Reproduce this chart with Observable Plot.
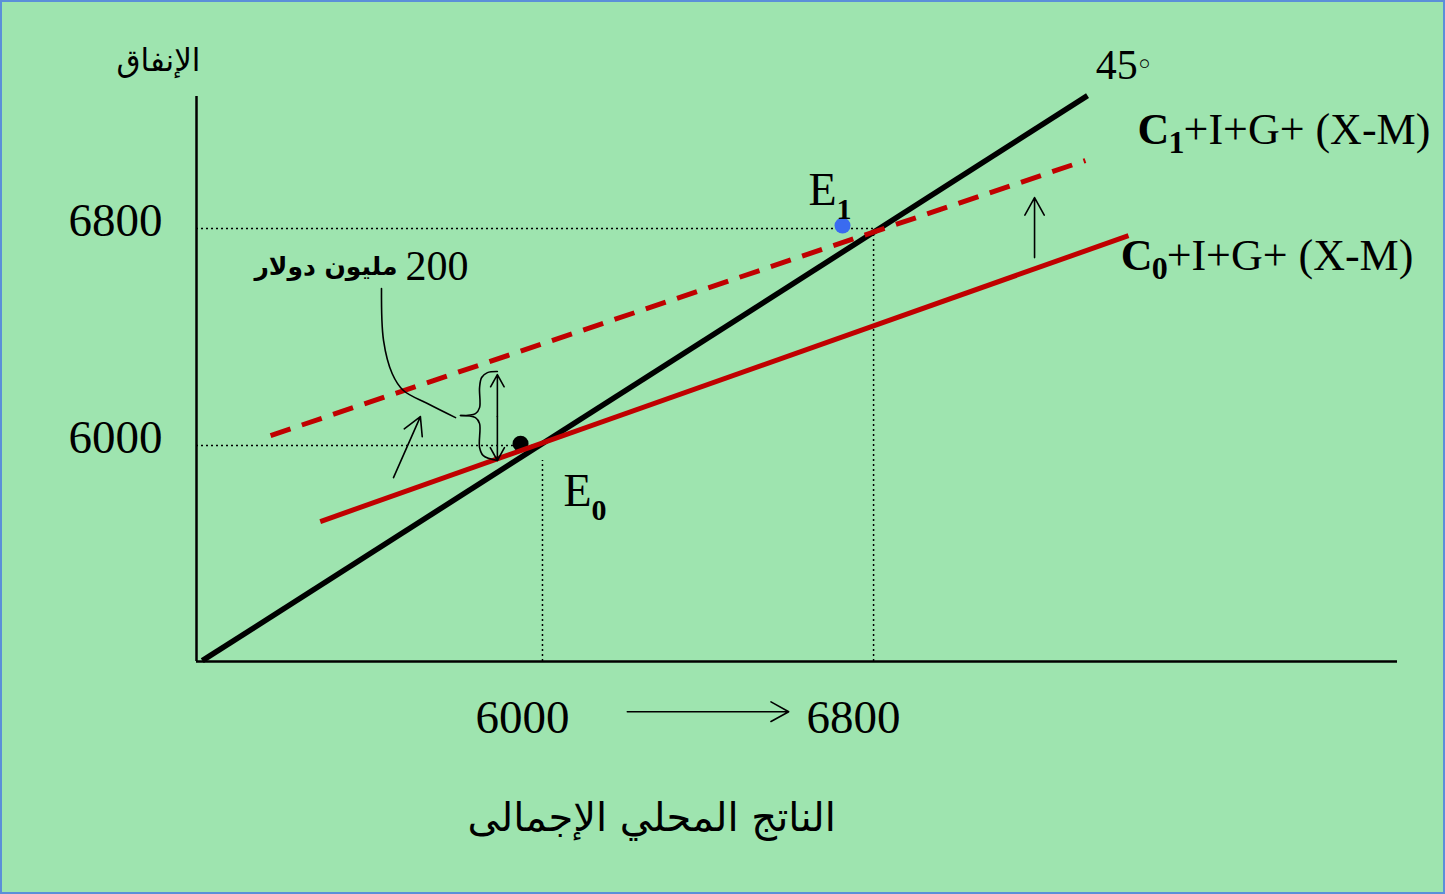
<!DOCTYPE html>
<html><head><meta charset="utf-8">
<script src="https://cdn.jsdelivr.net/npm/d3@7"></script>
<script src="https://cdn.jsdelivr.net/npm/@observablehq/plot@0.6"></script>
<style>
html,body{margin:0;padding:0;background:#9EE4AF;}
#chart svg{display:block;outline:2px solid #5B8FD9;outline-offset:-2px;}
</style></head><body><div id="chart"></div>
<script>
// ---- values (GDP on x, expenditure on y) ----
const axisTicks = [6000, 6800];
const xDomain = [5164, 8066];
const yDomain = [5204, 7287];
const line45X = [5178, 7317], line45Y = [5207, 7290];
const c0X = [5463, 7416], c0Y = [5720, 6774];
const c1X = [5343, 7312], c1Y = [6037, 7051];
const e0Point = [5947, 6007];
const e1Point = [6725, 6811];
const dropTopY = [5945, 6785];              // tops of the vertical guides at 6000 / 6800
const calloutX = [5611, 5616, 5637, 5664, 5722, 5790];
const calloutY = [6579, 6387, 6265, 6203, 6155, 6103];
const braceTopX = [5891, 5867, 5853, 5848, 5848, 5838, 5802];
const braceTopY = [6273, 6269, 6251, 6214, 6140, 6118, 6111];
const braceBotX = [5802, 5838, 5848, 5848, 5857, 5891];
const braceBotY = [6111, 6103, 6081, 5993, 5963, 5945];
const shiftArrows = [ // x1,y1,x2,y2
  {x1: 5891, y1: 6107, x2: 5891, y2: 6262},
  {x1: 5891, y1: 6107, x2: 5891, y2: 5945},
  {x1: 5640, y1: 5882, x2: 5705, y2: 6107},
  {x1: 7189, y1: 6693, x2: 7189, y2: 6914},
  {x1: 6205, y1: 5019, x2: 6595, y2: 5019}
];
const yTitle = "الإنفاق";
const xTitle = "الناتج المحلي الإجمالى";
const label45 = "45";
const amountNumber = "200";
const amountWords = "مليون دولار";
const curveLabels = [
  {x: 7438, y: 7165, sub: "1", rest: "+I+G+ (X-M)"},
  {x: 7397, y: 6700, sub: "0", rest: "+I+G+ (X-M)"}
];
const eqLabels = [
  {x: 6643, y: 6940, sub: "1"},
  {x: 6051, y: 5830, sub: "0"}
];
const titlePos = {yTitle: [5072, 7419], xTitle: [6264, 4625], l45: [7337, 7401], amount: [5821, 6660]};

const pts = (xs, ys, part) => xs.map((x, i) => ({x, y: ys[i], part}));
const serif = "Liberation Serif, Times New Roman, serif";
const arab = "DejaVu Sans, sans-serif";

const chart = Plot.plot({
  width: 1445, height: 894,
  marginLeft: 196, marginRight: 48, marginTop: 96, marginBottom: 233,
  style: {background: "#9EE4AF", fontFamily: serif, color: "black", overflow: "visible"},
  x: {domain: xDomain},
  y: {domain: yDomain},
  marks: [
    // axes lines
    Plot.ruleY([yDomain[0]], {x1: xDomain[0], x2: xDomain[1], stroke: "black", strokeWidth: 2.5}),
    Plot.ruleX([xDomain[0]], {y1: yDomain[0], y2: yDomain[1], stroke: "black", strokeWidth: 2.5}),
    Plot.axisY(axisTicks, {tickSize: 0, tickPadding: 34, fontSize: 47, dy: -8, label: null, tickFormat: d => String(d), fontFamily: serif}),
    Plot.axisX(axisTicks, {tickSize: 0, tickPadding: 38, fontSize: 47, dx: -20, label: null, tickFormat: d => String(d), fontFamily: serif}),
    // dotted guides
    Plot.ruleY(axisTicks, {x1: xDomain[0], x2: d => d, stroke: "black", strokeWidth: 1.5, strokeDasharray: "2,3"}),
    Plot.ruleX(axisTicks, {x: d => d, y1: yDomain[0], y2: (d, i) => dropTopY[i], stroke: "black", strokeWidth: 1.5, strokeDasharray: "2,3"}),
    // E0 dot under the lines
    Plot.dot([e0Point], {x: d => d[0], y: d => d[1], r: 8, fill: "black"}),
    // 45 degree line
    Plot.line(pts(line45X, line45Y), {x: "x", y: "y", stroke: "black", strokeWidth: 5.5, strokeLinecap: "butt"}),
    // C0 + I + G + (X-M)
    Plot.line(pts(c0X, c0Y), {x: "x", y: "y", stroke: "#C00000", strokeWidth: 5, strokeLinecap: "butt"}),
    // C1 + I + G + (X-M) dashed
    Plot.line(pts(c1X, c1Y), {x: "x", y: "y", stroke: "#C00000", strokeWidth: 5, strokeLinecap: "butt", strokeDasharray: "21,12"}),
    // E1 dot
    Plot.dot([e1Point], {x: d => d[0], y: d => d[1], r: 8, fill: "#3A6BF0"}),
    // callout curve and brace
    Plot.line(pts(calloutX, calloutY), {x: "x", y: "y", curve: "catmull-rom", stroke: "black", strokeWidth: 1.6}),
    Plot.line([...pts(braceTopX, braceTopY, "a"), ...pts(braceBotX, braceBotY, "b")], {x: "x", y: "y", z: "part", curve: "catmull-rom", stroke: "black", strokeWidth: 1.6}),
    // arrows
    Plot.arrow(shiftArrows, {x1: "x1", y1: "y1", x2: "x2", y2: "y2", stroke: "black", strokeWidth: 1.6, headLength: 19, headAngle: 58}),
    // titles
    Plot.text([yTitle], {x: () => titlePos.yTitle[0], y: () => titlePos.yTitle[1], text: d => d, fontFamily: arab, fontSize: 31, textAnchor: "middle"}),
    Plot.text([xTitle], {x: () => titlePos.xTitle[0], y: () => titlePos.xTitle[1], text: d => d, fontFamily: arab, fontSize: 40, textAnchor: "middle"}),
    Plot.text([label45], {x: () => titlePos.l45[0], y: () => titlePos.l45[1], text: d => d, fontFamily: serif, fontSize: 42, textAnchor: "start"}),
    Plot.text(["◦"], {x: () => titlePos.l45[0], y: () => titlePos.l45[1], text: d => d, fontFamily: "DejaVu Sans", fontSize: 30, textAnchor: "start", dx: 40, dy: 0}),
    Plot.text([amountNumber], {x: () => titlePos.amount[0], y: () => titlePos.amount[1], text: d => d, fontFamily: serif, fontSize: 42, textAnchor: "end"}),
    Plot.text([amountWords], {x: () => titlePos.amount[0], y: () => titlePos.amount[1], text: d => d, fontFamily: arab, fontWeight: "bold", fontSize: 25, textAnchor: "end", dx: -71}),
    // curve labels
    Plot.text(curveLabels, {x: "x", y: "y", text: () => "C", fontFamily: serif, fontWeight: "bold", fontSize: 44, textAnchor: "start"}),
    Plot.text(curveLabels, {x: "x", y: "y", text: "sub", fontFamily: serif, fontWeight: "bold", fontSize: 32, textAnchor: "start", dx: 31, dy: 13}),
    Plot.text(curveLabels, {x: "x", y: "y", text: "rest", fontFamily: serif, fontSize: 44, textAnchor: "start", dx: 46}),
    // equilibrium labels
    Plot.text(eqLabels, {x: "x", y: "y", text: () => "E", fontFamily: serif, fontSize: 46, textAnchor: "start"}),
    Plot.text(eqLabels, {x: "x", y: "y", text: "sub", fontFamily: serif, fontWeight: "bold", fontSize: 30, textAnchor: "start", dx: 28, dy: 19})
  ]
});
document.getElementById("chart").append(chart);
</script></body></html>
